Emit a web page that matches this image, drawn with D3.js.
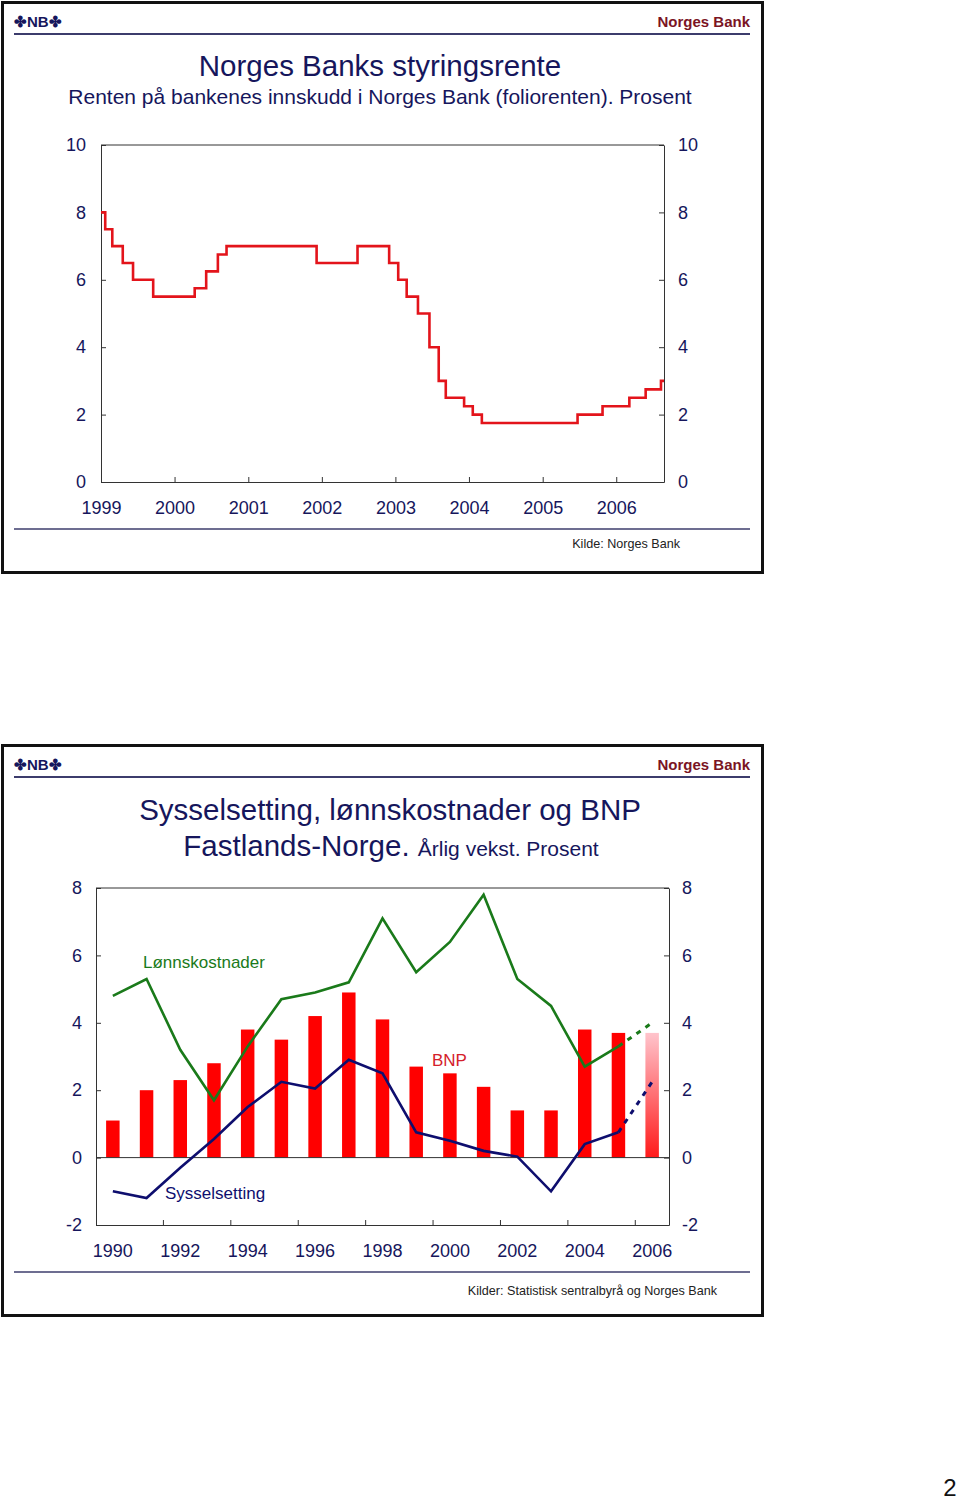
<!DOCTYPE html>
<html>
<head>
<meta charset="utf-8">
<script src="https://cdn.jsdelivr.net/npm/d3@7"></script>
<style>
body { margin: 0; background: #fff; font-family: "Liberation Sans", Arial, sans-serif; }
.axis path, .axis line { stroke: #333; stroke-width: 1; }
.axis text { fill: #16165c; font-size: 18px; font-family: "Liberation Sans", Arial, sans-serif; }
</style>
</head>
<body>
<svg id="page" width="960" height="1501"></svg>
<script>
// chart 1: foliorenten, dates of changes and new level
var rateDates = ["1999-01-01", "1999-01-22", "1999-02-26", "1999-04-19", "1999-06-09", "1999-09-17",
	"2000-04-10", "2000-06-06", "2000-08-03", "2000-09-15", "2001-12-06", "2002-06-27",
	"2002-12-01", "2003-01-15", "2003-02-26", "2003-04-23", "2003-06-19", "2003-08-04",
	"2003-09-08", "2003-12-08", "2004-01-20", "2004-03-05", "2005-06-23", "2005-10-25",
	"2006-03-07", "2006-05-27", "2006-08-11", "2006-08-26"];
var rateValues = [8.0, 7.5, 7.0, 6.5, 6.0, 5.5,
	5.75, 6.25, 6.75, 7.0, 6.5, 7.0,
	6.5, 6.0, 5.5, 5.0, 4.0, 3.0,
	2.5, 2.25, 2.0, 1.75, 2.0, 2.25,
	2.5, 2.75, 3.0, 3.0];
var rateTicks = [0, 2, 4, 6, 8, 10];

// chart 2: annual growth
var years = ["1990", "1991", "1992", "1993", "1994", "1995", "1996", "1997", "1998",
	"1999", "2000", "2001", "2002", "2003", "2004", "2005", "2006"];
var yearLabels = ["1990", "1992", "1994", "1996", "1998", "2000", "2002", "2004", "2006"];
var bnp = [1.1, 2.0, 2.3, 2.8, 3.8, 3.5, 4.2, 4.9, 4.1, 2.7, 2.5, 2.1, 1.4, 1.4, 3.8, 3.7, 3.7];
var lonn = [4.8, 5.3, 3.2, 1.7, 3.3, 4.7, 4.9, 5.2, 7.1, 5.5, 6.4, 7.8, 5.3, 4.5, 2.7, 3.3, 4.0];
var syss = [-1.0, -1.2, -0.3, 0.55, 1.5, 2.25, 2.05, 2.9, 2.5, 0.75, 0.5, 0.2, 0.03, -1.0, 0.4, 0.75, 2.25];
var growthTicks = [-2, 0, 2, 4, 6, 8];

var navy = "#16165c";
var plain = function (d) { return String(d); }; // plain hyphen for negatives
var svg = d3.select("#page");

function panel(top) {
	var g = svg.append("g").attr("transform", "translate(0," + top + ")");
	g.append("rect")
		.attr("x", 2.5).attr("y", 2.5)
		.attr("width", 760).attr("height", 570)
		.attr("fill", "none").attr("stroke", "#111").attr("stroke-width", 3);
	g.append("text")
		.attr("x", 14).attr("y", 27)
		.style("font-size", "15px").style("font-weight", "bold").attr("fill", navy)
		.text("\u2724NB\u2724");
	g.append("text")
		.attr("x", 750).attr("y", 27)
		.attr("text-anchor", "end")
		.style("font-size", "15px").style("font-weight", "bold").attr("fill", "#7a1424")
		.text("Norges Bank");
	g.append("line")
		.attr("x1", 14).attr("x2", 750).attr("y1", 34).attr("y2", 34)
		.attr("stroke", "#3c3c6c").attr("stroke-width", 2);
	g.append("line")
		.attr("x1", 14).attr("x2", 750).attr("y1", 529).attr("y2", 529)
		.attr("stroke", "#3c3c6c").attr("stroke-width", 1.5);
	return g;
}

// ---------- panel 1 ----------
var p1 = panel(0);
p1.append("text")
	.attr("x", 380).attr("y", 76).attr("text-anchor", "middle")
	.style("font-size", "29.5px").attr("fill", navy)
	.text("Norges Banks styringsrente");
p1.append("text")
	.attr("x", 380).attr("y", 104).attr("text-anchor", "middle")
	.style("font-size", "21px").attr("fill", navy)
	.text("Renten på bankenes innskudd i Norges Bank (foliorenten). Prosent");

var parse = d3.timeParse("%Y-%m-%d");
var rate = rateDates.map(function (d, i) { return {date: parse(d), value: rateValues[i]}; });

var x1 = d3.scaleTime()
	.domain([rate[0].date, rate[rate.length - 1].date])
	.range([101, 664]);
var y1 = d3.scaleLinear().domain([0, 10]).range([482, 145]);

p1.append("g").attr("class", "axis")
	.attr("transform", "translate(101,0)")
	.call(d3.axisLeft(y1).tickValues(rateTicks).tickFormat(plain).tickSize(-5).tickSizeOuter(0).tickPadding(15));
p1.append("g").attr("class", "axis")
	.attr("transform", "translate(664,0)")
	.call(d3.axisRight(y1).tickValues(rateTicks).tickFormat(plain).tickSize(-5).tickSizeOuter(0).tickPadding(14));
p1.append("g").attr("class", "axis")
	.attr("transform", "translate(0,482)")
	.call(d3.axisBottom(x1).ticks(d3.timeYear.every(1)).tickFormat(d3.timeFormat("%Y"))
		.tickSize(-5).tickSizeOuter(0).tickPadding(19));
p1.append("line")
	.attr("x1", 101).attr("x2", 664).attr("y1", 145).attr("y2", 145)
	.attr("stroke", "#333");

p1.append("path")
	.datum(rate)
	.attr("fill", "none")
	.attr("stroke", "#e3141b")
	.attr("stroke-width", 2.6)
	.attr("d", d3.line()
		.x(function (d) { return x1(d.date); })
		.y(function (d) { return y1(d.value); })
		.curve(d3.curveStepAfter));

p1.append("text")
	.attr("x", 680).attr("y", 548).attr("text-anchor", "end")
	.style("font-size", "12.6px").attr("fill", "#222")
	.text("Kilde: Norges Bank");

// ---------- panel 2 ----------
var p2 = panel(743);
p2.append("text")
	.attr("x", 390).attr("y", 77).attr("text-anchor", "middle")
	.style("font-size", "29.5px").attr("fill", navy)
	.text("Sysselsetting, lønnskostnader og BNP");
var t2 = p2.append("text")
	.attr("x", 391).attr("y", 113).attr("text-anchor", "middle")
	.attr("fill", navy);
t2.append("tspan").style("font-size", "29.5px").text("Fastlands-Norge. ");
t2.append("tspan").style("font-size", "21px").text("Årlig vekst. Prosent");

var g2 = svg.append("g");

var x2 = d3.scaleBand().domain(years).range([96, 669]).paddingInner(0.6).paddingOuter(0.3);
var y2 = d3.scaleLinear().domain([-2, 8]).range([1225, 888]);
var cx = function (d, i) { return x2(years[i]) + x2.bandwidth() / 2; };

var defs = svg.append("defs");
var grad = defs.append("linearGradient")
	.attr("id", "fade").attr("x1", 0).attr("x2", 0).attr("y1", 0).attr("y2", 1);
grad.append("stop").attr("offset", "0%").attr("stop-color", "#ffc4cc");
grad.append("stop").attr("offset", "100%").attr("stop-color", "#ff1a1a");

g2.selectAll(".bar")
	.data(bnp).enter().append("rect")
	.attr("class", "bar")
	.attr("x", function (d, i) { return x2(years[i]); })
	.attr("width", x2.bandwidth())
	.attr("y", function (d) { return y2(d); })
	.attr("height", function (d) { return y2(0) - y2(d); })
	.attr("fill", function (d, i) { return i === years.length - 1 ? "url(#fade)" : "#ff0000"; });

g2.append("g").attr("class", "axis")
	.attr("transform", "translate(96,0)")
	.call(d3.axisLeft(y2).tickValues(growthTicks).tickFormat(plain).tickSize(-5).tickSizeOuter(0).tickPadding(14));
g2.append("g").attr("class", "axis")
	.attr("transform", "translate(669,0)")
	.call(d3.axisRight(y2).tickValues(growthTicks).tickFormat(plain).tickSize(-5).tickSizeOuter(0).tickPadding(13));
g2.append("g").attr("class", "axis")
	.attr("transform", "translate(0,1225)")
	.call(d3.axisBottom(x2).tickValues(yearLabels).tickSize(0).tickPadding(19));
g2.append("line")
	.attr("x1", 96).attr("x2", 669).attr("y1", 888).attr("y2", 888)
	.attr("stroke", "#333");
g2.append("line")
	.attr("x1", 96).attr("x2", 669).attr("y1", y2(0)).attr("y2", y2(0))
	.attr("stroke", "#333");

// year ticks sit on the boundaries between every second band
var gap = x2.step() * x2.paddingInner() / 2;
g2.selectAll(".ytick")
	.data(years.filter(function (d, i) { return i > 0 && i % 2 === 0; }))
	.enter().append("line")
	.attr("x1", function (d) { return x2(d) - gap; })
	.attr("x2", function (d) { return x2(d) - gap; })
	.attr("y1", 1225).attr("y2", 1220)
	.attr("stroke", "#333");

var line2 = d3.line().x(cx).y(function (d) { return y2(d); });
function series(values, color) {
	var last = values.length - 1;
	var solid = values.map(function (d, i) { return i < last ? d : null; });
	g2.append("path")
		.attr("fill", "none").attr("stroke", color).attr("stroke-width", 2.6)
		.attr("d", line2.defined(function (d) { return d !== null; })(solid));
	var dashed = values.map(function (d, i) { return i >= last - 1 ? d : null; });
	g2.append("path")
		.attr("fill", "none").attr("stroke", color).attr("stroke-width", 3)
		.attr("stroke-dasharray", "5,6")
		.attr("d", line2.defined(function (d) { return d !== null; })(dashed));
}
series(lonn, "#1a7a1a");
series(syss, "#0e0e6e");

g2.append("text").attr("x", 143).attr("y", 968)
	.style("font-size", "17px").attr("fill", "#1a7a1a").text("Lønnskostnader");
g2.append("text").attr("x", 432).attr("y", 1066)
	.style("font-size", "17px").attr("fill", "#d4202a").text("BNP");
g2.append("text").attr("x", 165).attr("y", 1199)
	.style("font-size", "17px").attr("fill", "#0e0e6e").text("Sysselsetting");

p2.append("text")
	.attr("x", 717).attr("y", 552).attr("text-anchor", "end")
	.style("font-size", "12.6px").attr("fill", "#222")
	.text("Kilder: Statistisk sentralbyrå og Norges Bank");

svg.append("text")
	.attr("x", 950).attr("y", 1496).attr("text-anchor", "middle")
	.style("font-size", "24px").attr("fill", "#111")
	.text("2");
</script>
</body>
</html>
